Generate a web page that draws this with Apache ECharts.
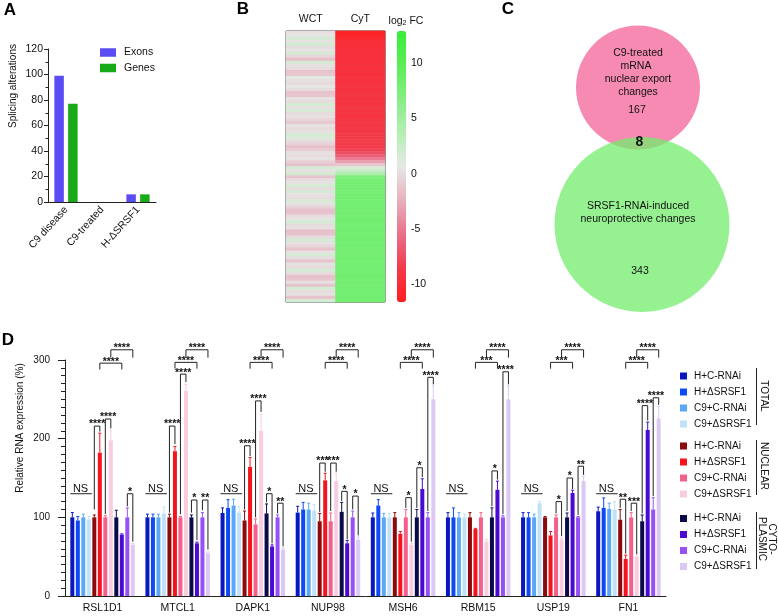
<!DOCTYPE html>
<html><head><meta charset="utf-8">
<script src="https://cdn.jsdelivr.net/npm/echarts@6/dist/echarts.min.js"></script>
<style>html,body{margin:0;padding:0;background:#fff}#c{width:778px;height:616px}</style>
</head><body><div id="c"></div>
<script>
const FONT = 'Liberation Sans, Arial, Helvetica, sans-serif';

// ---------- Panel A ----------
const splicingCats = ['C9 disease', 'C9-treated', 'H-ΔSRSF1'];
const exons = [99, 0, 6];
const genesA = [77, 0, 6];
const yTicksA = [0, 20, 40, 60, 80, 100, 120];

// ---------- Panel B ----------
const heatCols = ['WCT', 'CyT'];
const wct = [0.2,0.5,1.8,0.3,2.0,0,0.4,1.7,-0.4,-1.6, 1.8,0.2,0,-1.4,-1.2,0.9,0.2,0,0.6,0,
  -1.5,-1.2,0.3,0,1.9,0.2,1.6,0,0.2,-0.4, -1.0,0.3,0,0.2,1.8,1.4,0,-0.5,-1.6,-0.9,
  0.2,0,0.3,-0.7,-1.5,1.7,0.2,2.0,-1.3,0, 0.3,1.8,0,1.7,0.2,0,1.6,0.2,-0.5,-1.5,
  -1.3,0,0.4,1.8,0,0.2,-1.6,-1.3,0,1.7, 0.3,-0.3,-1.4,0.2,1.8,0,-1.3,0.3,0,1.7,
  0,-1.5,-1.2,0.2,-1.4,1.8,0,0.3,-1.5,1.7];
const cyt = [-11.2,-10.8,-10.2,-9.8,-9.6,-9.7,-9.5,-9.6,-9.4,-9.6, -9.5,-9.3,-9.6,-9.4,-9.5,-9.2,-9.3,-9.4,-9.1,-9.3,
  -9.2,-9.0,-9.3,-9.1,-9.2,-8.9,-9.1,-9.0,-9.2,-8.9, -8.8,-9.0,-8.7,-8.9,-8.6,-8.8,-8.5,-8.7,-8.4,-8.1,
  -7.4,-6.4,-5.0,-3.2,-1.2,1.5,2.6,4.2,7.2,7.8, 8.0,7.9,8.1,7.8,8.0,8.2,7.9,8.0,8.1,7.8,
  8.0,7.9,8.2,8.0,7.8,8.1,8.0,7.9,8.2,8.0, 7.8,8.1,8.0,7.9,8.0,8.2,7.8,8.0,8.1,7.9,
  8.0,8.2,7.9,8.0,7.8,8.1,8.0,7.9,8.1,8.0];
const fcMin = -11.6, fcMax = 12.9;
const fcTicks = [10, 5, 0, -5, -10];

// ---------- Panel C ----------
const vennSets = ['C9-treated mRNA nuclear export changes', 'SRSF1-RNAi-induced neuroprotective changes'];
const vennCounts = [167, 343];
const vennOverlap = 8;

// ---------- Panel D ----------
const genesD = ['RSL1D1', 'MTCL1', 'DAPK1', 'NUP98', 'MSH6', 'RBM15', 'USP19', 'FN1'];
const conditions = ['H+C-RNAi', 'H+ΔSRSF1', 'C9+C-RNAi', 'C9+ΔSRSF1'];
const fractions = ['TOTAL', 'NUCLEAR', 'CYTO-\nPLASMIC'];
const yTicksD = [0, 100, 200, 300];
// values and error-bar tops, per series, in gene order
const totHC = [100, 100, 105.5, 106, 100, 100, 100, 107.7];
const totHCe = [106, 104, 112, 114, 105.5, 106, 106, 113];
const totHD = [96, 100, 112, 110, 115, 100, 100, 112];
const totHDe = [101, 104, 122.5, 119, 122.5, 112, 106, 124.7];
const totCC = [100, 100, 115, 110, 100, 100, 100, 110.6];
const totCCe = [104, 104, 123, 118, 105, 106, 104, 118];
const totCD = [97, 105, 106, 108.5, 100, 100, 118, 110];
const totCDe = [101, 113, 114, 116, 105, 104, 120, 120];
const nucHC = [100, 100, 96, 95, 100, 100, 100, 97];
const nucHCe = [103, 104, 108, 105, 106, 106, 101, 110];
const nucHD = [182, 184, 164, 147, 79, 85, 77, 47];
const nucHDe = [207, 190, 176, 156, 82, 86, 82, 52];
const nucCC = [100, 100, 91, 95, 100, 100, 100, 100];
const nucCCe = [102, 101, 98, 105.5, 110, 106, 103, 106];
const nucCD = [198, 261, 210, 146, 65, 69, 72, 50];
const nucCDe = [210, 269, 231, 156, 67, 71.5, 73.6, 51];
const cytHC = [100, 100, 105, 107, 100, 100, 100, 95];
const cytHCe = [109, 103, 117, 119, 110, 112, 105.5, 103];
const cytHD = [78, 67, 63, 67, 136, 135, 131, 211];
const cytHDe = [79, 68.5, 65, 70.6, 149, 146, 134.5, 221];
const cytCC = [100, 100, 100, 100, 100, 100, 100, 110];
const cytCCe = [112, 106, 103, 108, 106, 102, 101, 125];
const cytCD = [65, 54, 59, 71.5, 250, 250, 146, 225.5];
const cytCDe = [67, 56, 61, 75, 267, 267, 152, 241];
// significance brackets: [gene, barA, barB, top, legA end, legB end, label]
const brackets = [
  [0,0,3,130,130,130,'NS'],[0,4,5,216,110,209,'****'],[0,6,7,225,104,213,'****'],[0,10,11,130,114,69,'*'],[0,5,9,296,288,288,'****'],[0,7,11,313,303,303,'****'],
  [1,0,3,130,130,130,'NS'],[1,4,5,216,106,193,'****'],[1,6,7,282,104,272,'****'],[1,8,9,122,106,71,'*'],[1,10,11,122,109,59,'**'],[1,5,9,297,289,289,'****'],[1,7,11,313,303,303,'****'],
  [2,0,3,130,130,130,'NS'],[2,4,5,191,110,178,'****'],[2,6,7,248,100,234,'****'],[2,8,9,130,119,67,'*'],[2,10,11,118,105,63,'**'],[2,5,9,297,289,289,'****'],[2,7,11,313,303,303,'****'],
  [3,0,3,130,130,130,'NS'],[3,4,5,169,107,158,'***'],[3,6,7,169,108,158,'***'],[3,8,9,133,121,72,'*'],[3,10,11,127,110,77,'*'],[3,5,9,297,289,289,'****'],[3,7,11,313,303,303,'****'],
  [4,0,3,130,130,130,'NS'],[4,6,7,125,112,69,'*'],[4,8,9,163,112,151,'*'],[4,10,11,278,108,269,'****'],[4,5,9,297,289,289,'****'],[4,7,11,313,303,303,'****'],
  [5,0,3,130,130,130,'NS'],[5,8,9,159,114,148,'*'],[5,10,11,285,104,269,'****'],[5,5,9,297,289,289,'***'],[5,7,11,313,303,303,'****'],
  [6,0,3,130,130,130,'NS'],[6,6,7,120,105,76,'*'],[6,8,9,150,108,136,'*'],[6,10,11,165,103,154,'**'],[6,5,9,297,289,289,'***'],[6,7,11,313,303,303,'****'],
  [7,0,3,130,130,130,'NS'],[7,4,5,123,112,54,'**'],[7,6,7,118,108,53,'***'],[7,8,9,242,105,223,'****'],[7,10,11,252,127,243,'****'],[7,5,9,297,289,289,'****'],[7,7,11,313,303,303,'****']
];

const seriesVals = [totHC, totHD, totCC, totCD, nucHC, nucHD, nucCC, nucCD, cytHC, cytHD, cytCC, cytCD];
const seriesErrs = [totHCe, totHDe, totCCe, totCDe, nucHCe, nucHDe, nucCCe, nucCDe, cytHCe, cytHDe, cytCCe, cytCDe];
const palette = ['#0a16c2', '#0f48f5', '#5aa8f5', '#bfe2f8',
                 '#8c0a0a', '#f5141e', '#f5608a', '#f8cde0',
                 '#0a0a4a', '#4a0ad2', '#9650f5', '#dcc8f5'];
const fracKeys = ['T', 'N', 'C'];
const seriesNames = [];
fracKeys.forEach(k => conditions.forEach(c => seriesNames.push(k + '|' + c)));

const BW = 4, BGAP = 0.375, NB = 12;
function barX(api, cat, j) {
  const c = api.coord([cat, 0])[0];
  const pitch = BW * (1 + BGAP);
  const total = NB * BW + (NB - 1) * BW * BGAP;
  return c - total / 2 + j * pitch + BW / 2;
}

const chart = echarts.init(document.getElementById('c'), null, {renderer: 'canvas'});

const heatData = [];
wct.forEach((v, i) => heatData.push([0, i, v]));
cyt.forEach((v, i) => heatData.push([1, i, v]));
const rowIds = wct.map((_, i) => String(i));

const errData = [];
seriesVals.forEach((arr, j) => arr.forEach((v, i) => errData.push([i, j, v, seriesErrs[j][i]])));

const axisBlack = {lineStyle: {color: '#222', width: 1}};
function txt(s, x, y, size, extra) {
  const base = {type: 'text', x: x, y: y, z: 100,
    style: {text: s, fontSize: size, fontFamily: FONT, fill: '#111', align: 'center', verticalAlign: 'middle'}};
  if (extra) {
    if (extra.style) Object.assign(base.style, extra.style);
    Object.keys(extra).forEach(k => { if (k !== 'style') base[k] = extra[k]; });
  }
  return base;
}
const bold17 = {style: {fontSize: 17, fontWeight: 'bold', fill: '#000'}};

const dSeries = seriesNames.map((n, j) => ({
  name: n, type: 'bar', xAxisIndex: 2, yAxisIndex: 2,
  data: seriesVals[j], barWidth: BW, barGap: (BGAP * 100) + '%',
  itemStyle: {color: palette[j]}, emphasis: {disabled: true}
}));

const legendD = (names, top) => ({data: names, left: 680, top: top, orient: 'vertical', padding: 0, itemWidth: 7, itemHeight: 7, itemGap: 6,
  icon: 'rect', formatter: n => n.split('|')[1], textStyle: {fontSize: 10, color: '#111', padding: [0, 0, 0, 2]}, selectedMode: false});

const option = {
  animation: false,
  textStyle: {fontFamily: FONT},
  grid: [
    {left: 48, top: 49, width: 108, height: 153},
    {left: 286, top: 31, width: 99, height: 271, show: true, borderColor: '#333', borderWidth: 1, backgroundColor: 'transparent'},
    {left: 65, top: 360, width: 601, height: 236},
    {left: 397, top: 31, width: 9, height: 271},
    {left: 540, top: 0, width: 200, height: 320}
  ],
  xAxis: [
    {gridIndex: 0, type: 'category', data: splicingCats, axisLine: axisBlack,
      axisTick: {alignWithLabel: true, length: 4, lineStyle: {color: '#222'}},
      axisLabel: {rotate: 48, fontSize: 10.5, color: '#111', margin: 6, interval: 0}},
    {gridIndex: 1, type: 'category', data: heatCols, position: 'top', axisLine: {show: false}, axisTick: {show: false},
      axisLabel: {fontSize: 10.5, color: '#111', margin: 6}},
    {gridIndex: 2, type: 'category', data: genesD, axisLine: axisBlack,
      axisTick: {alignWithLabel: true, length: 4, lineStyle: {color: '#222'}},
      axisLabel: {fontSize: 10.5, color: '#111', margin: 7, interval: 0}},
    {gridIndex: 3, type: 'value', show: false, min: 0, max: 1},
    {gridIndex: 4, type: 'value', show: false, min: 0, max: 200}
  ],
  yAxis: [
    {gridIndex: 0, type: 'value', min: 0, max: 120, interval: 20, axisLine: Object.assign({show: true}, axisBlack),
      axisTick: {show: true, length: 4, lineStyle: {color: '#222'}},
      minorTick: {show: true, splitNumber: 2, length: 2.5, lineStyle: {color: '#222'}},
      axisLabel: {fontSize: 10.5, color: '#111', margin: 5, customValues: yTicksA}, splitLine: {show: false}},
    {gridIndex: 1, type: 'category', data: rowIds, inverse: true, show: false},
    {gridIndex: 2, type: 'value', min: 0, max: 300, interval: 100, axisLine: Object.assign({show: true}, axisBlack),
      axisTick: {show: true, length: 7, lineStyle: {color: '#222'}},
      minorTick: {show: true, splitNumber: 10, length: 4, lineStyle: {color: '#222'}},
      axisLabel: {fontSize: 10, color: '#111', margin: 15, customValues: yTicksD}, splitLine: {show: false}},
    {gridIndex: 3, type: 'value', min: fcMin, max: fcMax, position: 'right',
      axisLine: {show: false}, axisTick: {show: true, length: 3, customValues: fcTicks, lineStyle: {color: '#333'}},
      axisLabel: {fontSize: 10.5, color: '#111', margin: 5, customValues: fcTicks}, splitLine: {show: false}},
    {gridIndex: 4, type: 'value', show: false, min: 0, max: 320, inverse: true}
  ],
  visualMap: {
    type: 'continuous', seriesIndex: 2, min: fcMin, max: fcMax, orient: 'vertical',
    left: 397, top: 31, itemWidth: 9, itemHeight: 271, padding: 0, calculable: false, hoverLink: false,
    inRange: {color: ['#ff1e1e', '#f23a4a', '#e8708a', '#e8b0bf', '#e6e8e6', '#b4efb2', '#86ee84', '#5aee55', '#38ee38']}
  },
  legend: [
    {data: ['Exons', 'Genes'], left: 100, top: 47, orient: 'vertical', padding: 0, itemWidth: 16, itemHeight: 8.5, itemGap: 4.5,
      icon: 'rect', textStyle: {fontSize: 10.5, color: '#111', padding: [0, 0, 0, 3]}, selectedMode: false},
    legendD(seriesNames.slice(0, 4), 371),
    legendD(seriesNames.slice(4, 8), 441),
    legendD(seriesNames.slice(8, 12), 513.5)
  ],
  series: [
    {name: 'Exons', type: 'bar', xAxisIndex: 0, yAxisIndex: 0, data: exons, barWidth: 9.5, barGap: '45%', itemStyle: {color: '#5a4cf2'}},
    {name: 'Genes', type: 'bar', xAxisIndex: 0, yAxisIndex: 0, data: genesA, barWidth: 9.5, barGap: '45%', itemStyle: {color: '#18aa18'}},
    {type: 'heatmap', xAxisIndex: 1, yAxisIndex: 1, data: heatData, emphasis: {disabled: true}},
    {type: 'scatter', xAxisIndex: 4, yAxisIndex: 4, silent: true, symbol: 'circle', z: 1,
      data: [
        {name: vennSets[0], value: [98, 87.5], symbolSize: 124, itemStyle: {color: '#f78ab2', opacity: 1}},
        {name: vennSets[1], value: [102, 224.5], symbolSize: 175, itemStyle: {color: 'rgb(115,236,108)', opacity: 0.75}}
      ]},
    ...dSeries,
    {type: 'custom', xAxisIndex: 2, yAxisIndex: 2, data: errData, z: 5, silent: true, clip: false,
      encode: {x: 0, y: 3},
      renderItem: (params, api) => {
        const cat = api.value(0), j = api.value(1), v = api.value(2), e = api.value(3);
        const x = barX(api, cat, j);
        const y0 = api.coord([cat, v])[1], y1 = api.coord([cat, e])[1];
        const col = palette[j];
        return {type: 'group', children: [
          {type: 'line', shape: {x1: x, y1: y0, x2: x, y2: y1}, style: {stroke: col, lineWidth: 1}},
          {type: 'line', shape: {x1: x - 1.5, y1: y1, x2: x + 1.5, y2: y1}, style: {stroke: col, lineWidth: 1}}
        ]};
      }},
    {type: 'custom', xAxisIndex: 2, yAxisIndex: 2, data: brackets.map(b => b.slice(0, 6)), z: 6, silent: true, clip: false,
      encode: {x: 0, y: 3},
      renderItem: (params, api) => {
        const b = brackets[params.dataIndex];
        const cat = b[0];
        const xa = barX(api, cat, b[1]), xb = barX(api, cat, b[2]);
        const yt = api.coord([cat, b[3]])[1];
        const lab = b[6];
        if (lab === 'NS') {
          return {type: 'group', children: [
            {type: 'line', shape: {x1: xa - BW / 2, y1: yt, x2: xb + BW / 2 + 1, y2: yt}, style: {stroke: '#222', lineWidth: 1}},
            {type: 'text', style: {text: 'NS', x: (xa + xb) / 2, y: yt + 1, align: 'center', verticalAlign: 'bottom', fontSize: 11, fontFamily: FONT, fill: '#111'}}
          ]};
        }
        const ya = api.coord([cat, b[4]])[1], yb = api.coord([cat, b[5]])[1];
        return {type: 'group', children: [
          {type: 'polyline', shape: {points: [[xa, ya], [xa, yt], [xb, yt], [xb, yb]]}, style: {stroke: '#222', lineWidth: 1, fill: null}},
          {type: 'text', style: {text: lab, x: (xa + xb) / 2, y: yt + 4, align: 'center', verticalAlign: 'bottom', fontSize: 10.5, fontWeight: 'bold', fontFamily: FONT, fill: '#111'}}
        ]};
      }}
  ],
  graphic: [
    txt('A', 10, 10, 17, bold17),
    txt('B', 243, 9, 17, bold17),
    txt('C', 508, 9, 17, bold17),
    txt('D', 8, 340, 17, bold17),
    txt('Splicing alterations', 13, 86, 10, {rotation: Math.PI / 2}),
    txt('Relative RNA expression (%)', 20, 428, 10, {rotation: Math.PI / 2}),
    txt('log{s|2} FC', 406, 21, 10.5, {style: {rich: {s: {fontSize: 7, fontFamily: FONT, fill: '#111', verticalAlign: 'bottom', padding: [5, 0, 0, 0]}}}}),
    txt('C9-treated', 638, 53, 10.5), txt('mRNA', 636, 66, 10.5), txt('nuclear export', 638, 79, 10.5), txt('changes', 638, 92, 10.5),
    txt(String(vennCounts[0]), 637, 110, 10.5),
    txt(String(vennOverlap), 639.5, 142.5, 14, {style: {fontWeight: 'bold'}}),
    txt('SRSF1-RNAi-induced', 638, 206, 10.5), txt('neuroprotective changes', 638, 219, 10.5),
    txt(String(vennCounts[1]), 640, 271, 10.5),
    {type: 'line', z: 100, shape: {x1: 756.5, y1: 368, x2: 756.5, y2: 425}, style: {stroke: '#222', lineWidth: 1}},
    {type: 'line', z: 100, shape: {x1: 756.5, y1: 440, x2: 756.5, y2: 495}, style: {stroke: '#222', lineWidth: 1}},
    {type: 'line', z: 100, shape: {x1: 756.5, y1: 512, x2: 756.5, y2: 569}, style: {stroke: '#222', lineWidth: 1}},
    txt(fractions[0], 764, 396, 10, {rotation: -Math.PI / 2}),
    txt(fractions[1], 764, 466, 10, {rotation: -Math.PI / 2}),
    txt(fractions[2], 767, 539, 10, {rotation: -Math.PI / 2, style: {lineHeight: 10}})
  ]
};
chart.setOption(option);
</script></body></html>
